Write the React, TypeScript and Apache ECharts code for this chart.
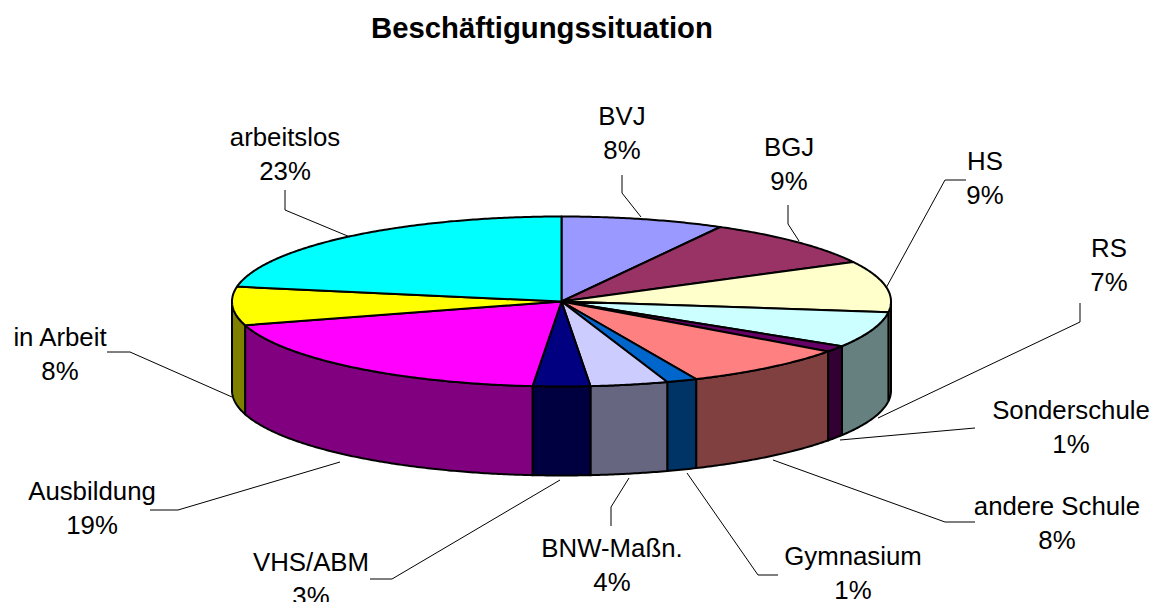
import React, { useEffect, useRef } from "react";
import * as echarts from "echarts";

const titleText = "Beschäftigungssituation";
const categories = ["BVJ", "BGJ", "HS", "RS", "Sonderschule", "andere Schule", "Gymnasium", "BNW-Maßn.", "VHS/ABM", "Ausbildung", "in Arbeit", "arbeitslos"];
const values = [8.0, 9.3, 9.7, 6.8, 1.2, 8.3, 1.5, 3.8, 2.8, 19.1, 7.3, 22.2];
const percentLabels = ["8%", "9%", "9%", "7%", "1%", "8%", "1%", "4%", "3%", "19%", "8%", "23%"];
const topColors = ["#9999FF", "#993366", "#FFFFCC", "#CCFFFF", "#660066", "#FF8080", "#0066CC", "#CCCCFF", "#000080", "#FF00FF", "#FFFF00", "#00FFFF"];
const wallColors = ["#4D4D80", "#4D1A33", "#808066", "#668080", "#330033", "#804040", "#003366", "#666680", "#000040", "#800080", "#808000", "#008080"];

const labelCentres: number[][] = [
  [622, 133], [789, 164], [985, 178], [1109, 265], [1071, 427], [1057, 523],
  [853, 573], [612, 565], [311, 579], [92, 508], [60, 354], [285, 154],
];
const leaders: number[][][] = [
  [[622, 175], [622, 193], [641, 217]],
  [[788, 205], [788, 224], [799, 241]],
  [[966, 180], [945, 180], [886, 288]],
  [[1080, 303], [1080, 322], [878, 418]],
  [[975, 428], [840, 440]],
  [[975, 522], [945, 522], [773, 460]],
  [[778, 575], [758, 575], [687, 473]],
  [[611, 526], [611, 507], [629, 478]],
  [[370, 579], [392, 579], [560, 480]],
  [[150, 510], [178, 510], [340, 462]],
  [[107, 352], [130, 352], [232, 397]],
  [[285, 190], [285, 210], [350, 237]],
];

const CX = 561.5;
const CY = 301.5;
const RX = 329.5;
const RY = 85;
const DEPTH = 89;

const total = values.reduce((a, b) => a + b, 0);
const starts: number[] = [];
values.reduce((acc, v, i) => {
  starts[i] = acc;
  return acc + v;
}, 0);

const rim = (deg: number, dy = 0): number[] => {
  const r = (deg * Math.PI) / 180;
  return [CX + RX * Math.sin(r), CY - RY * Math.cos(r) + dy];
};
const arc = (a0: number, a1: number, dy = 0): number[][] => {
  const n = Math.max(2, Math.ceil(Math.abs(a1 - a0) * 2));
  const pts: number[][] = [];
  for (let i = 0; i <= n; i++) pts.push(rim(a0 + ((a1 - a0) * i) / n, dy));
  return pts;
};
const sliceAngles = (i: number) => [(starts[i] / total) * 360, ((starts[i] + values[i]) / total) * 360];

const stroke = { stroke: "#000", lineWidth: 2, lineJoin: "round" as const };

const renderWall = (_: any, api: any) => {
  const i = api.value(0);
  const [a0, a1] = sliceAngles(i);
  const s = Math.max(a0, 90);
  const e = Math.min(a1, 270);
  if (e <= s) return { type: "group", children: [] };
  const points = [...arc(s, e), ...arc(e, s, DEPTH)];
  return { type: "polygon", shape: { points }, style: { fill: wallColors[i], ...stroke } };
};
const renderTop = (_: any, api: any) => {
  const i = api.value(0);
  const [a0, a1] = sliceAngles(i);
  const points = [[CX, CY], ...arc(a0, a1)];
  return { type: "polygon", shape: { points }, style: { fill: topColors[i], ...stroke } };
};
const renderLabel = (_: any, api: any) => {
  const i = api.value(0);
  return {
    type: "group",
    children: [
      {
        type: "polyline",
        shape: { points: leaders[i] },
        style: { fill: "none", stroke: "#000", lineWidth: 1 },
      },
      {
        type: "text",
        x: labelCentres[i][0],
        y: labelCentres[i][1],
        style: {
          text: `${categories[i]}\n${percentLabels[i]}`,
          font: "25.8px 'Liberation Sans', Arial, sans-serif",
          lineHeight: 34,
          fill: "#000",
          align: "center",
          verticalAlign: "middle",
        },
      },
    ],
  };
};

export default function App() {
  const ref = useRef<HTMLDivElement>(null);
  useEffect(() => {
    document.body.style.margin = "0";
    const chart = echarts.init(ref.current!, null, { renderer: "svg" });
    const data = values.map((v, i) => [i, v]);
    chart.setOption({
      animation: false,
      backgroundColor: "#fff",
      title: {
        text: titleText,
        left: 366,
        top: 8,
        textStyle: { fontFamily: "'Liberation Sans', Arial, sans-serif", fontSize: 29.3, fontWeight: "bold", color: "#000" },
      },
      series: [
        { type: "custom", coordinateSystem: "none", renderItem: renderWall, data, silent: true, z: 1 },
        { type: "custom", coordinateSystem: "none", renderItem: renderTop, data, silent: true, z: 2 },
        { type: "custom", coordinateSystem: "none", renderItem: renderLabel, data, silent: true, z: 3 },
      ],
    });
    return () => chart.dispose();
  }, []);
  return <div ref={ref} style={{ width: 1150, height: 602, overflow: "hidden" }} />;
}
